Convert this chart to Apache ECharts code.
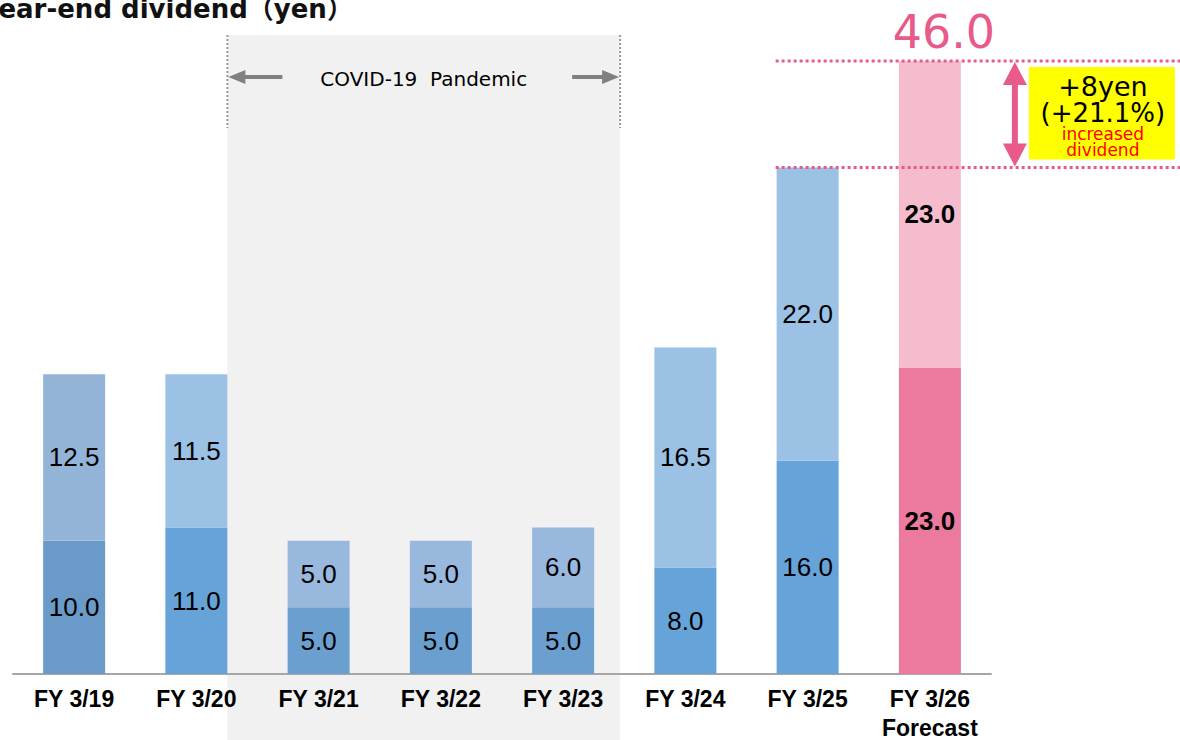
<!DOCTYPE html>
<html>
<head>
<meta charset="utf-8">
<title>Year-end dividend</title>
<script src="https://cdn.jsdelivr.net/npm/echarts@6/dist/echarts.min.js"></script>
<style>
html, body { margin: 0; padding: 0; background: #fff; }
#chart { width: 1180px; height: 740px; }
</style>
</head>
<body>
<div id="chart"></div>
<script>
// dividend per share (yen), lower = interim part, upper = year-end part
var years = ['FY 3/19', 'FY 3/20', 'FY 3/21', 'FY 3/22', 'FY 3/23', 'FY 3/24', 'FY 3/25', 'FY 3/26\nForecast'];
var lower = [10.0, 11.0, 5.0, 5.0, 5.0, 8.0, 16.0, 23.0];
var upper = [12.5, 11.5, 5.0, 5.0, 6.0, 16.5, 22.0, 23.0];
var lowerColors = ['#6a9bc8', '#66a3d9', '#6a9fd0', '#6a9fd0', '#6a9fd0', '#66a3d9', '#66a3d9', '#ec7a9e'];
var upperColors = ['#93b4d6', '#9bc1e5', '#98b9dd', '#98b9dd', '#98b9dd', '#9bc1e5', '#9bc1e5', '#f5bccd'];
var covidFrom = 1, covidTo = 4;   // FY 3/21 .. FY 3/23 shaded
var forecastIdx = 7;

var pink = '#e85a8a';
var sans = '"DejaVu Sans", "Noto Sans CJK JP", sans-serif';
var arial = '"Liberation Sans", Arial, sans-serif';

var chart = echarts.init(document.getElementById('chart'), null, { renderer: 'svg' });

function items(vals, colors) {
  return vals.map(function (v, i) {
    var it = { value: v, itemStyle: { color: colors[i] } };
    if (i === forecastIdx) it.label = { fontWeight: 'bold' };
    return it;
  });
}

var barLabel = {
  show: true,
  position: 'inside',
  color: '#000',
  fontFamily: arial,
  fontSize: 26,
  formatter: function (p) { return p.value.toFixed(1); }
};

chart.setOption({
  animation: false,
  grid: { left: 13, right: 189, top: 61, bottom: 66, outerBoundsMode: 'none', containLabel: false },
  xAxis: {
    type: 'category',
    data: years,
    axisLine: { lineStyle: { color: '#a6a6a6', width: 2 } },
    axisTick: { show: false },
    axisLabel: {
      interval: 0, hideOverlap: false,
      color: '#000', fontFamily: arial, fontWeight: 'bold', fontSize: 23,
      margin: 10, lineHeight: 29
    }
  },
  yAxis: { type: 'value', min: 0, max: 46, show: false, splitLine: { show: false } },
  series: [
    { type: 'bar', stack: 'd', barWidth: 62, data: items(lower, lowerColors), label: barLabel, z: 3 },
    { type: 'bar', stack: 'd', barWidth: 62, data: items(upper, upperColors), label: barLabel, z: 3 }
  ]
});

function decor() {
  var px = function (i, v) { return chart.convertToPixel({ gridIndex: 0 }, [i, v]); };
  var half = 31;
  var el = [];

  // title (the "Y" runs off the left edge in the original)
  el.push({ type: 'text', left: -18, top: -4, z: 10,
    style: { text: 'Year-end dividend（yen）', fontFamily: sans, fontWeight: 'bold', fontSize: 26, fill: '#111' } });

  // COVID-19 shaded band
  var cl = px(covidFrom, 0)[0] + half;
  var cr = px(covidTo, 0)[0] + 57;
  var ay = 77;
  el.push({ type: 'rect', z: -10, silent: true, shape: { x: cl, y: 35, width: cr - cl, height: 740 - 35 },
    style: { fill: '#f1f1f1' } });
  [cl, cr].forEach(function (x) {
    el.push({ type: 'line', shape: { x1: x, y1: 35, x2: x, y2: 128 },
      style: { stroke: '#9a9a9a', lineWidth: 2, lineDash: [2, 2] } });
  });
  el.push({ type: 'line', shape: { x1: cl + 12, y1: ay, x2: cl + 55, y2: ay }, style: { stroke: '#808080', lineWidth: 4 } });
  el.push({ type: 'polygon', shape: { points: [[cl + 1, ay], [cl + 18, ay - 7], [cl + 18, ay + 7]] }, style: { fill: '#808080' } });
  el.push({ type: 'line', shape: { x1: cr - 48, y1: ay, x2: cr - 12, y2: ay }, style: { stroke: '#808080', lineWidth: 4 } });
  el.push({ type: 'polygon', shape: { points: [[cr - 1, ay], [cr - 18, ay - 7], [cr - 18, ay + 7]] }, style: { fill: '#808080' } });
  el.push({ type: 'text', x: (cl + cr) / 2, y: ay + 2, z: 10,
    style: { text: 'COVID-19  Pandemic', fontFamily: sans, fontSize: 20, fill: '#000', align: 'center', verticalAlign: 'middle' } });

  // forecast total and increase
  var totNow = lower[forecastIdx] + upper[forecastIdx];
  var totPrev = lower[forecastIdx - 1] + upper[forecastIdx - 1];
  var pNow = px(forecastIdx, totNow);
  var pPrev = px(forecastIdx - 1, totPrev);
  el.push({ type: 'text', x: pNow[0] + 14, y: pNow[1] - 29, z: 10,
    style: { text: totNow.toFixed(1), fontFamily: sans, fontSize: 46, fill: pink, align: 'center', verticalAlign: 'middle' } });
  [pNow[1], pPrev[1]].forEach(function (y) {
    el.push({ type: 'line', z: 10, shape: { x1: pPrev[0] - half - 1, y1: y, x2: 1180, y2: y },
      style: { stroke: pink, lineWidth: 3, lineDash: [3, 3] } });
  });
  var ax = pNow[0] + 85;
  el.push({ type: 'line', shape: { x1: ax, y1: pNow[1] + 18, x2: ax, y2: pPrev[1] - 18 }, style: { stroke: pink, lineWidth: 6 } });
  el.push({ type: 'polygon', shape: { points: [[ax, pNow[1] + 1], [ax - 12, pNow[1] + 24], [ax + 12, pNow[1] + 24]] }, style: { fill: pink } });
  el.push({ type: 'polygon', shape: { points: [[ax, pPrev[1] - 1], [ax - 12, pPrev[1] - 24], [ax + 12, pPrev[1] - 24]] }, style: { fill: pink } });

  var bx = ax + 14, bw = 146, by = pNow[1] + 6, bh = pPrev[1] - 8 - by;
  var cx = bx + bw / 2 + 1;
  el.push({ type: 'rect', shape: { x: bx, y: by, width: bw, height: bh }, style: { fill: '#ffff00' } });
  var diff = totNow - totPrev;
  var pct = diff / totPrev * 100;
  el.push({ type: 'text', x: cx, y: by + 19, z: 10,
    style: { text: '+' + diff + 'yen', fontFamily: sans, fontSize: 27, fill: '#000', align: 'center', verticalAlign: 'middle' } });
  el.push({ type: 'text', x: cx, y: by + 46, z: 10,
    style: { text: '(+' + pct.toFixed(1) + '%)', fontFamily: sans, fontSize: 26, fill: '#000', align: 'center', verticalAlign: 'middle' } });
  el.push({ type: 'text', x: cx, y: by + 67, z: 11,
    style: { text: 'increased', fontFamily: sans, fontSize: 17, fill: '#ff0000', align: 'center', verticalAlign: 'middle' } });
  el.push({ type: 'text', x: cx, y: by + 83, z: 11,
    style: { text: 'dividend', fontFamily: sans, fontSize: 17, fill: '#ff0000', align: 'center', verticalAlign: 'middle' } });

  chart.setOption({ graphic: { elements: el } });
}
decor();
</script>
</body>
</html>
